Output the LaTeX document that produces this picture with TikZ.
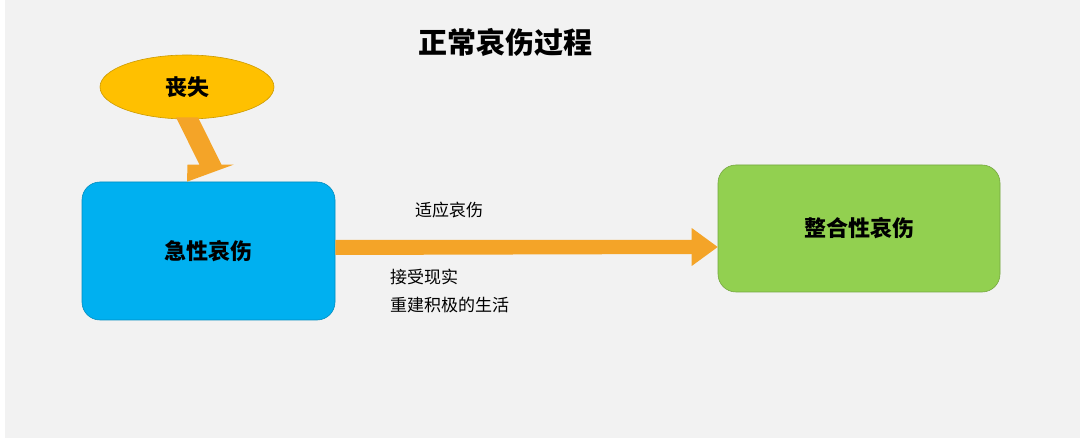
\documentclass[tikz,border=0pt]{standalone}
\usepackage{fontspec}
\setmainfont{Noto Sans CJK SC}
\usetikzlibrary{shapes.geometric,calc}
\definecolor{bg}{HTML}{F2F2F2}
\definecolor{yel}{HTML}{FFC000}
\definecolor{org}{HTML}{F4A428}
\definecolor{blu}{HTML}{00B0F0}
\definecolor{grn}{HTML}{92D050}
\tikzset{box/.style={draw=#1!80!black,line width=0.6pt,fill=#1,rounded corners=18pt,inner sep=0pt,font=\fontsize{22}{26}\selectfont\bfseries},
lbl/.style={font=\fontsize{17}{21}\selectfont,anchor=west,inner sep=0pt}}
\begin{document}
\begin{tikzpicture}[x=1pt,y=-1pt]
\fill[bg] (0,0) rectangle (1080,438);
\fill[white] (0,0) rectangle (5,438);
\useasboundingbox (0,0) rectangle (1080,438);
\node[font=\fontsize{29}{34}\selectfont\bfseries] (title) at (505,42) {正常哀伤过程};
\node[ellipse,draw=yel!80!black,line width=0.6pt,fill=yel,minimum width=174pt,minimum height=64pt,inner sep=0pt,font=\fontsize{22}{26}\selectfont\bfseries] (loss) at (187,87) {丧失};
\node[box=blu,minimum width=253pt,minimum height=138pt] (acute) at (208.5,251) {急性哀伤};
\node[box=grn,minimum width=282pt,minimum height=127pt] (integ) at (859,228.5) {整合性哀伤};
% down arrow
\fill[org] ($(loss.south)+(-11,-2)$) -- ($(loss.south)+(11,-2)$) -- ($(acute.north)+(13,-17)$) -- ($(acute.north)+(25,-17)$) -- (acute.north -| loss.south) -- ($(acute.north)+(-21,-17)$) -- ($(acute.north)+(-9,-17)$) -- cycle;
% horizontal arrow
\coordinate (tip) at (integ.west |- 0,247);
\fill[org] (acute.east |- 0,240) -- ($(tip)+(-26,-7)$) -- ($(tip)+(-26,-19)$) -- (tip) -- ($(tip)+(-26,19)$) -- ($(tip)+(-26,7)$) -- (acute.east |- 0,255) -- cycle;
\node[lbl] (l1) at (415,210) {适应哀伤};
\node[lbl] (l2) at (390,277) {接受现实};
\node[lbl] (l3) at (390,305) {重建积极的生活};
\end{tikzpicture}
\end{document}
